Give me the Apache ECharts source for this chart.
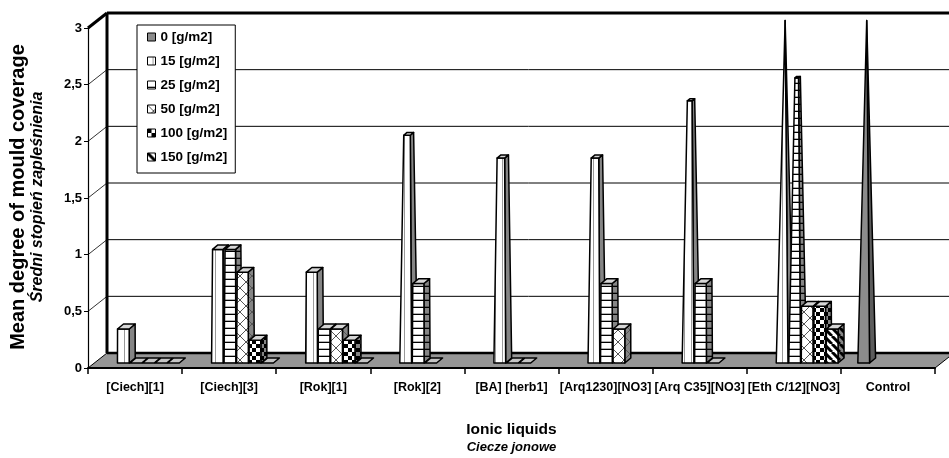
<!DOCTYPE html>
<html><head><meta charset="utf-8">
<script src="https://cdn.jsdelivr.net/npm/echarts@6/dist/echarts.min.js"></script>
<style>html,body{margin:0;padding:0;background:#fff}#c{width:949px;height:458px}</style>
</head><body><div id="c"></div>
<script>
// ---------- data ----------
const categories = ['[Ciech][1]', '[Ciech][3]', '[Rok][1]', '[Rok][2]', '[BA] [herb1]',
  '[Arq1230][NO3]', '[Arq C35][NO3]', '[Eth C/12][NO3]', 'Control'];
const seriesNames = ['0 [g/m2]', '15 [g/m2]', '25 [g/m2]', '50 [g/m2]', '100 [g/m2]', '150 [g/m2]'];
const dose0   = [null, null, null, null, null, null, null, null, 3.0];
const dose15  = [0.3, 1.0, 0.8, 2.0, 1.8, 1.8, 2.3, 3.0, null];
const dose25  = [0,   1.0, 0.3, 0.7, 0,   0.7, 0.7, 2.5, null];
const dose50  = [0,   0.8, 0.3, 0,   0,   0.3, 0,   0.5, null];
const dose100 = [0,   0.2, 0.2, null, null, null, null, 0.5, null];
const dose150 = [0,   0,   0,   null, null, null, null, 0.3, null];
const yTickValues = [0, 0.5, 1, 1.5, 2, 2.5, 3];
const Y_MIN = 0, Y_MAX = 3, Y_STEP = 0.5;
const yTitle1 = 'Mean degree of mould coverage';
const yTitle2 = 'Średni stopień zapleśnienia';
const xTitle1 = 'Ionic liquids';
const xTitle2 = 'Ciecze jonowe';

// ---------- fonts ----------
function hasFont(name) {
  const g = document.createElement('canvas').getContext('2d');
  const t = 'abcdefghijklmnopqrstuvwxyz0123456789[]ABCDEFGHIJKLM';
  g.font = 'bold 40px monospace'; const w1 = g.measureText(t).width;
  g.font = 'bold 40px "' + name + '", monospace'; const w2 = g.measureText(t).width;
  return Math.abs(w1 - w2) > 0.5;
}
const NARROW = hasFont('Liberation Sans Narrow');
const FN = NARROW ? '"Liberation Sans Narrow", "Liberation Sans", Arial, sans-serif' : '"Liberation Sans", Arial, sans-serif';
const FR = '"Liberation Sans", Arial, sans-serif';
const fsCat = NARROW ? 15 : 12.5;
const fsY = NARROW ? 15.5 : 13;
const fsLeg = NARROW ? 16 : 13.5;

// ---------- patterns ----------
function mkPat(w, h, bg, draw) {
  const c = document.createElement('canvas'); c.width = w; c.height = h;
  const g = c.getContext('2d'); g.fillStyle = bg; g.fillRect(0, 0, w, h);
  if (draw) draw(g, w, h);
  return { image: c, repeat: 'repeat' };
}
const drawV = (g, w, h) => { g.fillStyle = '#9a9a9a'; g.fillRect(5, 0, 1, h); };
const drawH = (g, w, h) => { g.fillStyle = '#000'; g.fillRect(0, h - 1.3, w, 1.3); };
const drawL = (g, w, h) => { g.strokeStyle = '#555'; g.lineWidth = 1; g.beginPath();
  g.moveTo(0, 0); g.lineTo(w, h); g.moveTo(w, 0); g.lineTo(0, h); g.stroke(); };
const drawC = (g, w, h) => { g.fillStyle = '#000'; g.fillRect(0, 0, w / 2, h / 2); g.fillRect(w / 2, h / 2, w / 2, h / 2); };
const drawD = (g, w, h) => { g.strokeStyle = '#000'; g.lineWidth = 3; g.beginPath();
  for (const o of [-w, 0, w]) { g.moveTo(o, 0); g.lineTo(o + w, h); } g.stroke(); };
const fronts = [
  '#8c8c8c',
  mkPat(7, 4, '#ffffff', drawV),
  mkPat(6, 7, '#ffffff', drawH),
  mkPat(12, 12, '#ffffff', drawL),
  mkPat(8, 8, '#ffffff', drawC),
  mkPat(8, 8, '#ffffff', drawD)
];
const sides = [
  '#5c5c5c',
  '#858585',
  mkPat(6, 7, '#858585', drawH),
  mkPat(12, 12, '#858585', drawL),
  mkPat(8, 8, '#858585', drawC),
  mkPat(8, 8, '#858585', drawD)
];
const allSeries = [dose0, dose15, dose25, dose50, dose100, dose150];

// ---------- geometry constants ----------
const DX = 19, DY = 15;           // depth of plot box
const BAR_DX = 6, BAR_DY = 5;     // depth of each bar
const BAR_SHIFT = 5;              // bars sit slightly behind the front plane

function makeBarRenderer(k) {
  return function (params, api) {
    const cat = api.value(0), v = api.value(1);
    const c0 = api.coord([cat, 0]);
    const cv = api.coord([cat, v]);
    const band = api.size([1, 0])[0];
    const W = band * 0.125;
    const x0 = c0[0] - band / 2 + band * (0.18 + 0.133 * k);
    const yb = c0[1] - BAR_SHIFT;
    const h = c0[1] - cv[1];
    const s = Math.max(0, 1 - Math.pow(v / Y_MAX, 2));
    const cx = x0 + W / 2 + BAR_DX / 2, cy = yb - BAR_DY / 2;
    const P = (top, fx, fz) => {
      const sc = top ? s : 1;
      const yy = cy - (top ? h : 0);
      return [cx + fx * W * sc / 2 + fz * BAR_DX * sc / 2, yy - fz * BAR_DY * sc / 2];
    };
    const stroke = { stroke: '#000', lineWidth: 1.5, lineJoin: 'round' };
    if (!(v > 0)) {
      return { type: 'polygon', shape: { points: [P(0, -1, -1), P(0, 1, -1), P(0, 1, 1), P(0, -1, 1)] },
        style: Object.assign({ fill: '#c4c4c4' }, stroke) };
    }
    return { type: 'group', children: [
      { type: 'polygon', shape: { points: [P(0, 1, -1), P(0, 1, 1), P(1, 1, 1), P(1, 1, -1)] },
        style: Object.assign({ fill: sides[k] }, stroke) },
      { type: 'polygon', shape: { points: [P(0, -1, -1), P(0, 1, -1), P(1, 1, -1), P(1, -1, -1)] },
        style: Object.assign({ fill: fronts[k] }, stroke) },
      { type: 'polygon', shape: { points: [P(1, -1, -1), P(1, 1, -1), P(1, 1, 1), P(1, -1, 1)] },
        style: Object.assign({ fill: '#d6d6d6' }, stroke) }
    ]};
  };
}

function renderFrame(params, api) {
  const cs = params.coordSys;
  const x = cs.x, w = cs.width;
  const yAt = v => api.coord([0, v])[1];
  const y0 = yAt(Y_MIN), yT = yAt(Y_MAX);
  const ch = [];
  ch.push({ type: 'polygon', shape: { points: [[x, y0], [x + DX, y0 - DY], [x + w + DX, y0 - DY], [x + w, y0]] },
    style: { fill: '#969696', stroke: '#000', lineWidth: 1 } });
  yTickValues.forEach(v => {
    const y = yAt(v);
    const isTop = v === Y_MAX, isBot = v === Y_MIN;
    ch.push({ type: 'line', shape: { x1: x + DX, y1: y - DY, x2: x + w + DX + 20, y2: y - DY },
      style: { stroke: '#000', lineWidth: isTop ? 3 : (isBot ? 2.5 : 1) } });
    if (!isBot) ch.push({ type: 'line', shape: { x1: x, y1: y, x2: x + DX, y2: y - DY },
      style: { stroke: '#000', lineWidth: isTop ? 3 : 0.8 } });
  });
  ch.push({ type: 'line', shape: { x1: x + DX, y1: yT - DY, x2: x + DX, y2: y0 - DY },
    style: { stroke: '#000', lineWidth: 3 } });
  return { type: 'group', children: ch };
}

const series = [{
  type: 'custom', name: 'frame', silent: true, z: 1,
  renderItem: renderFrame, data: [[0, 0]], encode: { x: 0, y: 1 }
}];
seriesNames.forEach((nm, k) => {
  const data = [];
  allSeries[k].forEach((v, i) => { if (v !== null) data.push([i, v]); });
  series.push({
    type: 'custom', name: nm, z: 2 + k * 0.01,
    itemStyle: { color: fronts[k], borderColor: '#000', borderWidth: 1 },
    renderItem: makeBarRenderer(k), data: data, encode: { x: 0, y: 1 }
  });
});

const chart = echarts.init(document.getElementById('c'), null, { renderer: 'canvas' });
chart.setOption({
  backgroundColor: '#fff',
  animation: false,
  grid: { left: 88, top: 28, width: 847, height: 340, outerBoundsMode: 'none', containLabel: false },
  xAxis: {
    type: 'category', data: categories, z: 5,
    axisLine: { show: true, lineStyle: { color: '#000', width: 2 } },
    axisTick: { show: true, length: 6, lineStyle: { color: '#000', width: 1.5 } },
    axisLabel: { interval: 0, color: '#000', fontWeight: 'bold', fontSize: fsCat, fontFamily: FN, margin: 13 },
    splitLine: { show: false },
    name: '{a|' + xTitle1 + '}\n{b|' + xTitle2 + '}',
    nameLocation: 'middle', nameGap: 53,
    nameTextStyle: { rich: {
      a: { fontWeight: 'bold', fontSize: NARROW ? 17 : 15.5, fontFamily: FN, color: '#000', lineHeight: 18, align: 'center' },
      b: { fontWeight: 'bold', fontStyle: 'italic', fontSize: NARROW ? 15 : 13, fontFamily: FN, color: '#000', lineHeight: 16, align: 'center' }
    } }
  },
  yAxis: {
    type: 'value', min: Y_MIN, max: Y_MAX, interval: Y_STEP, z: 5,
    axisLine: { show: true, lineStyle: { color: '#000', width: 1.2 } },
    axisTick: { show: true, length: 4, lineStyle: { color: '#000' } },
    splitLine: { show: false },
    axisLabel: { color: '#000', fontWeight: 'bold', fontSize: fsY, fontFamily: FN, margin: 6,
      formatter: v => String(v).replace('.', ',') }
  },
  legend: {
    data: seriesNames.map(n => ({ name: n, icon: 'rect' })),
    orient: 'vertical', left: 137, top: 25,
    itemWidth: 8, itemHeight: 8, itemGap: 10,
    backgroundColor: '#fff', borderColor: '#000', borderWidth: 1,
    padding: [5, 8, 9, 10],
    itemStyle: { borderColor: '#000', borderWidth: 1 },
    textStyle: { color: '#000', fontWeight: 'bold', fontSize: fsLeg, fontFamily: FN },
    selectedMode: false
  },
  graphic: [
    { type: 'text', x: 18, y: 197, rotation: Math.PI / 2, z: 10,
      style: { text: yTitle1, font: 'bold 20px ' + FR, fill: '#000', align: 'center', verticalAlign: 'middle' } },
    { type: 'text', x: 38, y: 197, rotation: Math.PI / 2, z: 10,
      style: { text: yTitle2, font: 'italic bold 16px ' + FR, fill: '#000', align: 'center', verticalAlign: 'middle' } }
  ],
  series: series
});
</script></body></html>
